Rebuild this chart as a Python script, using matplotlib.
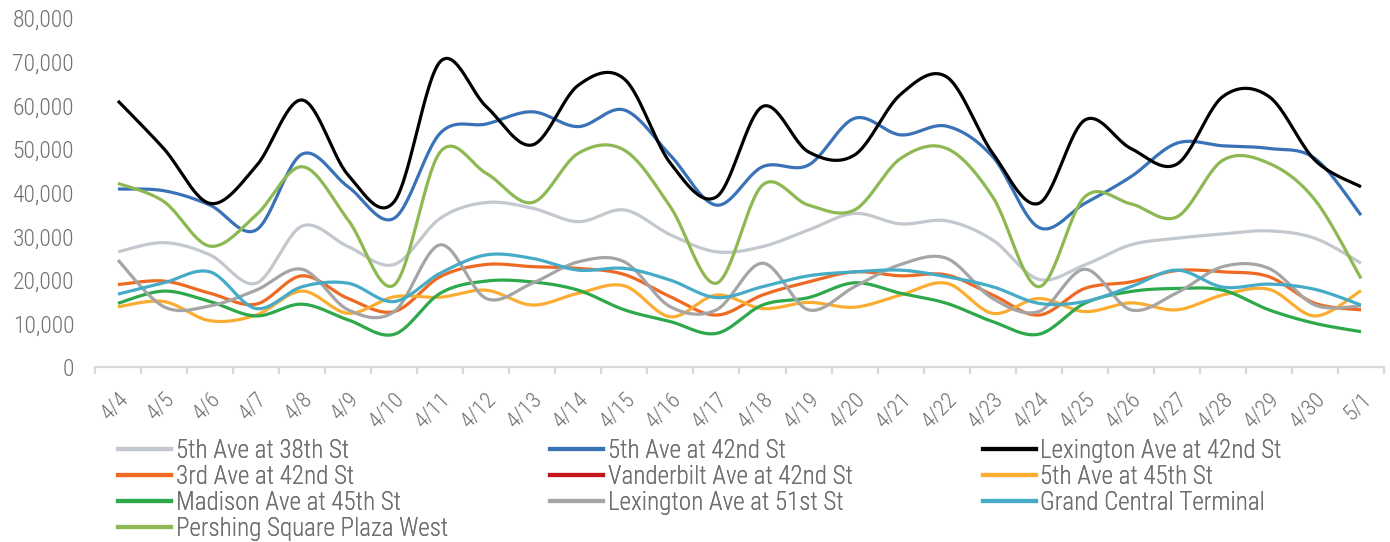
import numpy as np
import matplotlib
matplotlib.use('Agg')
import matplotlib.pyplot as plt
from matplotlib.lines import Line2D

plt.rcParams['font.family'] = ['Roboto Condensed', 'Archivo Narrow', 'Asap Condensed', 'DejaVu Sans']
plt.rcParams['font.weight'] = 'light'

# daily counts, 4/4 .. 5/1
dates = ['4/4', '4/5', '4/6', '4/7', '4/8', '4/9', '4/10', '4/11', '4/12', '4/13',
         '4/14', '4/15', '4/16', '4/17', '4/18', '4/19', '4/20', '4/21', '4/22', '4/23',
         '4/24', '4/25', '4/26', '4/27', '4/28', '4/29', '4/30', '5/1']

fifth_38 = [26400, 28500, 25700, 19200, 32300, 27600, 23500, 34100, 37700, 36400,
            33300, 36000, 30300, 26400, 27600, 31400, 35200, 32800, 33500, 29100,
            20100, 23400, 28000, 29500, 30500, 31200, 29500, 23800]
fifth_42 = [40800, 40400, 37100, 31400, 48800, 41300, 34100, 53600, 55700, 58500,
            55100, 58900, 48500, 37100, 45900, 46300, 57000, 53200, 55200, 48200,
            32000, 37500, 43600, 51300, 50700, 50100, 47800, 34800]
lex_42 = [61000, 50000, 37500, 46000, 61200, 44000, 37900, 70000, 59700, 50900,
          64600, 66000, 46700, 39000, 59700, 49300, 48600, 62500, 66500, 49000,
          37500, 56600, 50100, 46500, 62000, 62000, 47400, 41300]
third_42 = [18900, 19700, 16900, 14400, 20900, 15700, 12700, 20700, 23500, 23000,
            22600, 21200, 16100, 11900, 16500, 19500, 21800, 20900, 21100, 16500,
            11900, 18000, 19500, 22100, 21800, 20700, 14600, 13100]
vanderbilt_42 = [np.nan] * len(dates)  # no counts recorded
fifth_45 = [13800, 15000, 10600, 11900, 17400, 12300, 16100, 16000, 17600, 14200,
            16900, 18600, 11500, 16500, 13400, 14800, 13700, 16500, 19200, 12300,
            15700, 12700, 14700, 13100, 16500, 17800, 11700, 17500]
madison_45 = [14600, 17400, 15000, 11700, 14400, 10800, 7500, 16900, 19700, 19500,
              17600, 13100, 10400, 7700, 14200, 15900, 19300, 16900, 14600, 10400,
              7500, 14600, 17300, 18000, 17600, 13100, 10000, 8100]
lex_51 = [24500, 13800, 14000, 17600, 22400, 13100, 12700, 28000, 15700, 19200,
          24100, 24100, 13800, 13100, 23800, 13100, 18400, 23500, 24900, 15700,
          12700, 22400, 13100, 17000, 23000, 22600, 14200, 14000]
grand_central = [16700, 19300, 21800, 13400, 18400, 19200, 15000, 21500, 25700, 24900,
                 22200, 22600, 19900, 15900, 18400, 20900, 21800, 22200, 20700, 18400,
                 14600, 15000, 18400, 22200, 18300, 19000, 17800, 14200]
pershing_west = [42100, 37900, 27700, 34800, 45900, 33700, 18800, 49300, 44400, 37700,
                 49000, 49700, 36700, 19200, 41700, 37100, 36000, 47800, 50100, 39000,
                 18400, 39000, 37400, 34400, 47400, 46700, 38300, 20300]

series = [
    ('5th Ave at 38th St', fifth_38, '#C3C8CE'),
    ('5th Ave at 42nd St', fifth_42, '#3A72B8'),
    ('Lexington Ave at 42nd St', lex_42, '#000000'),
    ('3rd Ave at 42nd St', third_42, '#EE6A22'),
    ('Vanderbilt Ave at 42nd St', vanderbilt_42, '#C1161C'),
    ('5th Ave at 45th St', fifth_45, '#FBAD32'),
    ('Madison Ave at 45th St', madison_45, '#2DA84A'),
    ('Lexington Ave at 51st St', lex_51, '#A5A5A5'),
    ('Grand Central Terminal', grand_central, '#46ABC7'),
    ('Pershing Square Plaza West', pershing_west, '#8DB852'),
]


def smooth(xs, ys, n=30):
    # spreadsheet-style smoothed line: cubic bezier through each point
    xs = np.asarray(xs, float)
    ys = np.asarray(ys, float)
    px = np.concatenate([[xs[0]], xs, [xs[-1]]])
    py = np.concatenate([[ys[0]], ys, [ys[-1]]])
    t = np.linspace(0, 1, n)[:, None]
    out_x, out_y = [], []
    for i in range(len(xs) - 1):
        p0 = np.array([px[i + 1], py[i + 1]])
        p3 = np.array([px[i + 2], py[i + 2]])
        c1 = p0 + (np.array([px[i + 2], py[i + 2]]) - np.array([px[i], py[i]])) / 6
        c2 = p3 - (np.array([px[i + 3], py[i + 3]]) - np.array([px[i + 1], py[i + 1]])) / 6
        b = ((1 - t) ** 3) * p0 + 3 * ((1 - t) ** 2) * t * c1 + 3 * (1 - t) * t ** 2 * c2 + t ** 3 * p3
        out_x.append(b[:, 0])
        out_y.append(b[:, 1])
    return np.concatenate(out_x), np.concatenate(out_y)


fig = plt.figure(figsize=(13.9, 5.42), dpi=100)
ax = fig.add_axes([0.0683, 0.3229, 0.9274, 0.6439])

x = np.arange(len(dates))
handles = []
for name, vals, col in series:
    sx, sy = smooth(x, vals)
    ax.plot(sx, sy, color=col, lw=2.3, solid_capstyle='butt')
    handles.append(Line2D([], [], color=col, lw=3.0, label=name))

ax.set_xlim(-0.5, len(dates) - 0.5)
ax.set_ylim(0, 80000)
ax.set_yticks(np.arange(0, 80001, 10000))
ax.set_yticklabels([f'{v:,}' for v in range(0, 80001, 10000)])
ax.set_xticks(x)
ax.set_xticklabels(dates, rotation=45, ha='right', rotation_mode='anchor')
ax.set_xticks(np.arange(-0.5, len(dates)), minor=True)

for s in ['top', 'right', 'left']:
    ax.spines[s].set_visible(False)
ax.spines['bottom'].set_color('#D9D9D9')
ax.spines['bottom'].set_linewidth(1.6)

ax.tick_params(axis='y', length=0, pad=15, labelsize=17, labelcolor='#707070')
ax.tick_params(axis='x', which='major', length=0, pad=16, labelsize=16, labelcolor='#707070')
ax.tick_params(axis='x', which='minor', length=5, width=1.6, color='#D9D9D9')

# legend laid out in rows of three, one legend per column
col_x = [118, 550, 983]
for c in range(3):
    hs = handles[c::3]
    leg = fig.legend(handles=hs, loc='upper left', bbox_to_anchor=(col_x[c] / 1390, 1 - 439 / 542),
                     frameon=False, fontsize=18, labelcolor='#707070', handlelength=2.1,
                     handletextpad=0.2, labelspacing=0.08, borderpad=0, borderaxespad=0)
    fig.add_artist(leg)

fig.savefig('out.png', dpi=100)
